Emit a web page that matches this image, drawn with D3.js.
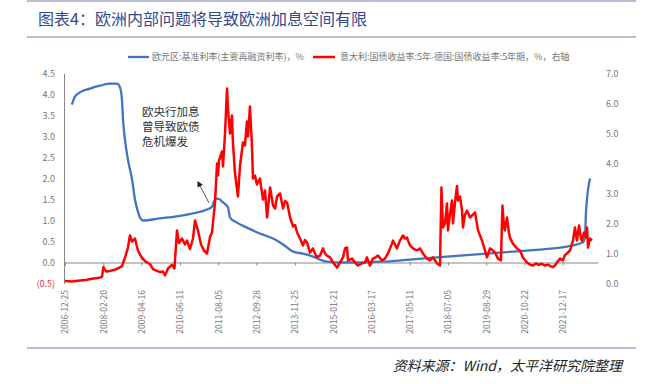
<!DOCTYPE html>
<html>
<head>
<meta charset="utf-8">
<script src="https://cdn.jsdelivr.net/npm/d3@7"></script>
<style>
  body { margin: 0; background: #fff; }
  text { font-family: "Noto Sans CJK SC", "Noto Sans", sans-serif; }
</style>
</head>
<body>
<div id="chart"></div>
<script>
// svg size
var svgWidth = 648;
var svgHeight = 384;

// plot box (pixels)
var plot = { left: 64, right: 598, top: 73.5, bottom: 283.5 };

// ---- data ----
var titleText = "图表4：欧洲内部问题将导致欧洲加息空间有限";
var sourceText = "资料来源：Wind，太平洋研究院整理";
var blueName = "欧元区:基准利率(主要再融资利率)，%";
var redName = "意大利:国债收益率:5年-德国:国债收益率:5年期，%，右轴";
var noteLines = ["欧央行加息", "曾导致欧债", "危机爆发"];

var xTickDates = ["2006-12-25", "2008-02-20", "2009-04-16", "2010-06-11", "2011-08-05",
  "2012-09-28", "2013-11-25", "2015-01-21", "2016-03-17", "2017-05-11", "2018-07-05",
  "2019-08-29", "2020-10-22", "2021-12-17"];
var leftTicks = [-0.5, 0, 0.5, 1, 1.5, 2, 2.5, 3, 3.5, 4, 4.5];
var rightTicks = [0, 1, 2, 3, 4, 5, 6, 7];

// ECB main refinancing rate (left axis), as drawn
var ecbRate = [
  ["2007-03-11", 3.76], ["2007-04-13", 3.95], ["2007-06-07", 4.05], ["2007-09-26", 4.14],
  ["2008-01-14", 4.21], ["2008-05-02", 4.26], ["2008-07-19", 4.26], ["2008-08-21", 4.17],
  ["2008-09-11", 3.88], ["2008-09-23", 3.4], ["2008-10-14", 2.93], ["2008-11-16", 2.45],
  ["2008-12-31", 1.98], ["2009-02-01", 1.5], ["2009-03-06", 1.21], ["2009-03-28", 1.07],
  ["2009-05-01", 1.0], ["2009-11-03", 1.05], ["2010-05-09", 1.1], ["2010-11-01", 1.17],
  ["2011-04-04", 1.26], ["2011-05-29", 1.33], ["2011-07-01", 1.5], ["2011-08-03", 1.52],
  ["2011-09-27", 1.43], ["2011-11-21", 1.31], ["2011-12-13", 1.07], ["2012-02-27", 0.95],
  ["2012-06-16", 0.83], ["2012-11-06", 0.69], ["2013-03-30", 0.57], ["2013-07-18", 0.43],
  ["2013-11-05", 0.26], ["2014-02-22", 0.21], ["2014-06-12", 0.14], ["2014-08-28", 0.07],
  ["2014-11-13", 0.02], ["2015-05-30", 0.0], ["2016-07-09", 0.02], ["2017-05-13", 0.07],
  ["2018-06-24", 0.14], ["2019-06-22", 0.2], ["2020-06-18", 0.26], ["2021-06-05", 0.32],
  ["2022-02-02", 0.38], ["2022-07-28", 0.48], ["2022-08-19", 0.6], ["2022-08-30", 1.2],
  ["2022-10-13", 2.0]
];

// Italy - Germany 5y yield spread (right axis), as drawn
var itDeSpread = [
  ["2006-12-25", 0.08], ["2007-03-11", 0.07], ["2007-06-07", 0.1], ["2007-08-12", 0.12],
  ["2007-10-17", 0.16], ["2007-12-22", 0.18], ["2008-02-04", 0.22], ["2008-02-21", 0.55],
  ["2008-03-19", 0.4], ["2008-05-02", 0.42], ["2008-06-15", 0.45], ["2008-07-29", 0.5],
  ["2008-09-11", 0.58], ["2008-10-14", 0.85], ["2008-11-16", 1.2], ["2008-12-08", 1.6],
  ["2008-12-31", 1.4], ["2009-02-01", 1.5], ["2009-03-06", 1.1], ["2009-04-19", 0.85],
  ["2009-06-02", 0.72], ["2009-07-16", 0.65], ["2009-08-18", 0.48], ["2009-10-01", 0.42],
  ["2009-11-03", 0.38], ["2009-12-06", 0.4], ["2009-12-28", 0.27], ["2010-01-30", 0.5],
  ["2010-03-15", 0.62], ["2010-04-11", 0.5], ["2010-05-09", 1.77], ["2010-05-31", 1.35],
  ["2010-07-03", 1.5], ["2010-08-05", 1.3], ["2010-08-27", 1.43], ["2010-09-29", 1.15],
  ["2010-11-01", 1.5], ["2010-11-23", 2.1], ["2010-12-26", 1.77], ["2011-01-28", 1.3],
  ["2011-03-02", 1.1], ["2011-04-04", 1.0], ["2011-05-07", 1.55], ["2011-05-29", 1.7],
  ["2011-07-01", 2.7], ["2011-07-23", 4.0], ["2011-08-03", 3.6], ["2011-08-14", 4.1],
  ["2011-09-16", 4.4], ["2011-09-27", 3.9], ["2011-10-19", 5.0], ["2011-11-10", 6.5],
  ["2011-11-21", 5.8], ["2011-12-13", 5.0], ["2012-01-03", 5.6], ["2012-01-14", 4.7],
  ["2012-02-05", 3.7], ["2012-03-09", 2.9], ["2012-03-31", 3.9], ["2012-05-03", 4.7],
  ["2012-05-25", 4.6], ["2012-06-16", 5.4], ["2012-06-27", 4.9], ["2012-07-19", 5.9],
  ["2012-08-10", 4.6], ["2012-08-21", 3.5], ["2012-09-12", 3.6], ["2012-10-04", 3.3],
  ["2012-11-06", 3.5], ["2012-12-09", 2.8], ["2013-01-01", 3.1], ["2013-01-23", 2.2],
  ["2013-02-25", 3.2], ["2013-03-30", 2.6], ["2013-04-21", 2.5], ["2013-05-13", 2.9],
  ["2013-06-15", 3.0], ["2013-07-18", 2.5], ["2013-08-09", 2.75], ["2013-08-31", 2.7],
  ["2013-10-03", 2.2], ["2013-11-05", 1.9], ["2013-11-27", 1.95], ["2013-12-19", 1.7],
  ["2014-01-20", 1.5], ["2014-02-22", 1.27], ["2014-03-16", 1.45], ["2014-04-07", 1.37],
  ["2014-05-10", 1.03], ["2014-06-12", 1.17], ["2014-07-04", 1.0], ["2014-07-26", 0.87],
  ["2014-08-28", 0.93], ["2014-09-30", 1.17], ["2014-10-22", 1.0], ["2014-11-13", 0.93],
  ["2014-12-16", 0.87], ["2015-01-18", 0.7], ["2015-02-09", 0.62], ["2015-03-03", 0.53],
  ["2015-04-05", 0.7], ["2015-05-08", 0.87], ["2015-05-30", 1.17], ["2015-06-21", 1.2],
  ["2015-07-02", 0.77], ["2015-08-15", 0.83], ["2015-09-17", 0.7], ["2015-10-20", 0.6],
  ["2015-12-03", 0.67], ["2016-01-04", 0.7], ["2016-01-26", 0.87], ["2016-02-28", 0.6],
  ["2016-04-01", 0.83], ["2016-05-04", 0.88], ["2016-05-26", 0.93], ["2016-07-09", 0.77],
  ["2016-08-11", 0.83], ["2016-09-13", 1.0], ["2016-10-27", 1.33], ["2016-11-07", 1.43],
  ["2016-12-21", 1.17], ["2017-01-23", 1.43], ["2017-02-25", 1.6], ["2017-03-19", 1.5],
  ["2017-04-10", 1.53], ["2017-05-13", 1.27], ["2017-06-15", 1.17], ["2017-07-29", 1.1],
  ["2017-08-31", 1.17], ["2017-10-03", 1.0], ["2017-11-16", 0.83], ["2017-12-19", 0.77],
  ["2018-01-21", 0.87], ["2018-03-06", 0.67], ["2018-04-08", 0.6], ["2018-04-24", 3.2],
  ["2018-05-11", 1.87], ["2018-06-02", 2.0], ["2018-06-24", 2.67], ["2018-07-05", 1.77],
  ["2018-07-27", 2.3], ["2018-08-18", 2.77], ["2018-08-29", 2.0], ["2018-09-20", 2.7],
  ["2018-10-12", 3.25], ["2018-10-23", 2.77], ["2018-11-14", 2.9], ["2018-12-06", 2.43],
  ["2018-12-17", 1.87], ["2019-01-08", 2.3], ["2019-01-30", 2.43], ["2019-03-04", 2.2],
  ["2019-04-06", 2.3], ["2019-04-28", 2.37], ["2019-05-31", 1.77], ["2019-06-22", 1.6],
  ["2019-07-14", 1.43], ["2019-08-16", 1.1], ["2019-09-07", 0.87], ["2019-10-10", 1.17],
  ["2019-11-12", 1.1], ["2019-12-04", 1.03], ["2020-01-05", 0.83], ["2020-02-07", 0.77],
  ["2020-02-24", 2.6], ["2020-03-11", 1.9], ["2020-03-22", 1.77], ["2020-04-13", 2.2],
  ["2020-05-05", 1.7], ["2020-05-16", 1.53], ["2020-06-18", 1.33], ["2020-08-01", 1.17],
  ["2020-09-03", 1.1], ["2020-10-06", 0.87], ["2020-11-19", 0.7], ["2020-12-22", 0.63],
  ["2021-01-24", 0.6], ["2021-02-26", 0.67], ["2021-03-31", 0.62], ["2021-05-03", 0.66],
  ["2021-06-05", 0.6], ["2021-07-08", 0.63], ["2021-07-30", 0.58], ["2021-09-01", 0.55],
  ["2021-09-23", 0.6], ["2021-10-15", 0.7], ["2021-11-17", 0.83], ["2021-12-20", 0.77],
  ["2022-01-11", 0.95], ["2022-02-02", 1.0], ["2022-03-07", 1.1], ["2022-04-09", 1.43],
  ["2022-05-01", 1.87], ["2022-05-23", 1.43], ["2022-06-14", 1.93], ["2022-07-06", 1.5],
  ["2022-07-17", 1.43], ["2022-08-08", 1.7], ["2022-08-30", 1.55], ["2022-09-10", 1.87],
  ["2022-09-21", 1.2], ["2022-10-13", 1.5], ["2022-11-04", 1.43]
];

var parseDate = d3.timeParse("%Y-%m-%d");

var svg = d3.select("#chart")
  .append("svg")
  .attr("width", svgWidth)
  .attr("height", svgHeight);

// frame lines + title
var frameColor = "#a3a6c8";
[1, 37, 348].forEach(function (y) {
  svg.append("line")
    .attr("x1", 27).attr("x2", 636)
    .attr("y1", y).attr("y2", y)
    .attr("stroke", frameColor)
    .attr("stroke-width", 1.5);
});

svg.append("text")
  .attr("x", 38).attr("y", 25)
  .attr("font-size", "16px")
  .attr("fill", "#34488f")
  .text(titleText);

svg.append("text")
  .attr("x", 622).attr("y", 371)
  .attr("text-anchor", "end")
  .attr("font-size", "14px")
  .attr("font-style", "italic")
  .attr("fill", "#222")
  .text(sourceText);

// scales
var xScale = d3.scaleTime()
  .domain([parseDate("2006-12-14"), parseDate("2023-01-09")])
  .range([plot.left, plot.right]);

var yLeft = d3.scaleLinear()
  .domain([-0.5, 4.5])
  .range([plot.bottom, plot.top]);

var yRight = d3.scaleLinear()
  .domain([0, 7])
  .range([plot.bottom, plot.top]);

// left axis
var leftAxis = svg.append("g")
  .attr("transform", `translate(${plot.left},0)`)
  .call(d3.axisLeft(yLeft).tickValues(leftTicks).tickSize(0).tickPadding(9)
    .tickFormat(function (d) { return d < 0 ? "(" + Math.abs(d).toFixed(1) + ")" : d.toFixed(1); }));
leftAxis.select(".domain").attr("stroke", "#888");
leftAxis.selectAll("text")
  .attr("font-family", "Liberation Sans, Arial, sans-serif")
  .attr("font-size", "9px")
  .attr("fill", function (d) { return d < 0 ? "#e03030" : "#777"; });

// right axis
var rightAxis = svg.append("g")
  .attr("transform", `translate(${plot.right},0)`)
  .call(d3.axisRight(yRight).tickValues(rightTicks).tickSize(0).tickPadding(8)
    .tickFormat(d3.format(".1f")));
rightAxis.select(".domain").remove();
rightAxis.selectAll("text")
  .attr("font-family", "Liberation Sans, Arial, sans-serif")
  .attr("font-size", "9px")
  .attr("fill", "#777");

// bottom axis on the zero line
var bottomAxis = svg.append("g")
  .attr("transform", `translate(0,${yLeft(0)})`)
  .call(d3.axisBottom(xScale).tickValues(xTickDates.map(parseDate))
    .tickSizeInner(3).tickSizeOuter(0)
    .tickFormat(d3.timeFormat("%Y-%m-%d")));
bottomAxis.select(".domain").attr("stroke", "#888");
bottomAxis.selectAll(".tick line").attr("stroke", "#888");
bottomAxis.selectAll("text")
  .attr("font-family", "Liberation Sans, Arial, sans-serif")
  .attr("font-size", "8.5px")
  .attr("fill", "#777")
  .attr("text-anchor", "end")
  .attr("transform", "rotate(-90)")
  .attr("x", -(290 - yLeft(0)))
  .attr("y", 0)
  .attr("dy", "0.35em");

// lines
var blueLine = d3.line()
  .x(function (d) { return xScale(parseDate(d[0])); })
  .y(function (d) { return yLeft(d[1]); })
  .curve(d3.curveMonotoneX);

var redLine = d3.line()
  .x(function (d) { return xScale(parseDate(d[0])); })
  .y(function (d) { return yRight(d[1]); });

svg.append("path")
  .datum(ecbRate)
  .attr("d", blueLine)
  .attr("fill", "none")
  .attr("stroke", "#4472c4")
  .attr("stroke-width", 2.3);

svg.append("path")
  .datum(itDeSpread)
  .attr("d", redLine)
  .attr("fill", "none")
  .attr("stroke", "#ff0000")
  .attr("stroke-width", 2.5)
  .attr("stroke-linejoin", "round");

// legend
var legend = svg.append("g").attr("font-size", "9px").attr("fill", "#777");
legend.append("line").attr("x1", 128).attr("x2", 149).attr("y1", 57).attr("y2", 57)
  .attr("stroke", "#4472c4").attr("stroke-width", 2.3);
legend.append("text").attr("x", 152).attr("y", 60).text(blueName);
legend.append("line").attr("x1", 313).attr("x2", 335).attr("y1", 57).attr("y2", 57)
  .attr("stroke", "#ff0000").attr("stroke-width", 2.5);
legend.append("text").attr("x", 340).attr("y", 60).text(redName);

// annotation
svg.append("defs").append("marker")
  .attr("id", "arrow")
  .attr("viewBox", "0 0 10 10")
  .attr("refX", 8).attr("refY", 5)
  .attr("markerWidth", 6).attr("markerHeight", 6)
  .attr("orient", "auto")
  .append("path")
  .attr("d", "M0,0 L10,5 L0,10 z")
  .attr("fill", "#222");

svg.append("line")
  .attr("x1", 209).attr("y1", 203)
  .attr("x2", 198).attr("y2", 182)
  .attr("stroke", "#555")
  .attr("stroke-width", 1)
  .attr("marker-end", "url(#arrow)");

svg.selectAll(null)
  .data(noteLines)
  .enter()
  .append("text")
  .attr("x", 142)
  .attr("y", function (d, i) { return 116 + i * 15; })
  .attr("font-size", "11.5px")
  .attr("fill", "#333")
  .text(function (d) { return d; });
</script>
</body>
</html>
